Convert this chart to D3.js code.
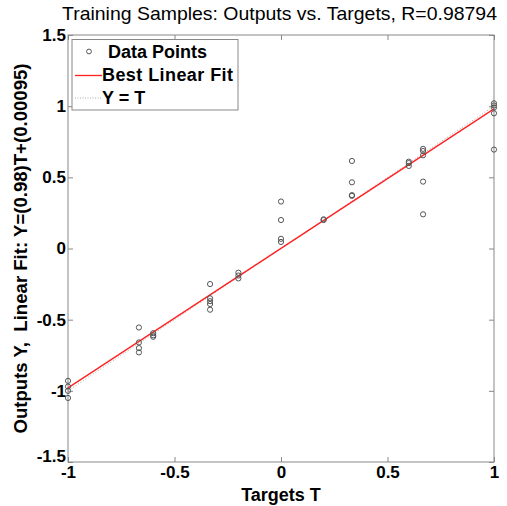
<!DOCTYPE html>
<html><head><meta charset="utf-8">
<script src="https://cdn.jsdelivr.net/npm/d3@7"></script>
<style>body{margin:0;background:#fff}svg{display:block}text{font-family:"Liberation Sans",Arial,sans-serif}</style>
</head><body>
<script>
const targets = [-1,-1,-1,-1,
  -0.667,-0.667,-0.667,-0.667,
  -0.6,-0.6,-0.6,
  -0.333,-0.333,-0.333,-0.333,-0.333,
  -0.2,-0.2,-0.2,
  0,0,0,0,
  0.2,0.2,
  0.333,0.333,0.333,0.333,
  0.6,0.6,0.6,
  0.667,0.667,0.667,0.667,0.667,
  1,1,1,1,1];
const outputs = [-0.93,-0.97,-1.0,-1.05,
  -0.555,-0.66,-0.70,-0.73,
  -0.595,-0.61,-0.62,
  -0.25,-0.35,-0.37,-0.39,-0.43,
  -0.17,-0.19,-0.21,
  0.33,0.2,0.068,0.046,
  0.205,0.2,
  0.615,0.465,0.375,0.37,
  0.61,0.6,0.58,
  0.70,0.685,0.655,0.47,0.24,
  1.02,1.005,0.99,0.95,0.695];
const xTicks = [-1,-0.5,0,0.5,1];
const yTicks = [-1.5,-1,-0.5,0,0.5,1,1.5];
const fitSlope = 0.98, fitIntercept = 0.00095;
const titleText = "Training Samples: Outputs vs. Targets, R=0.98794";
const xLabel = "Targets T";
const yLabel = "Outputs Y,  Linear Fit: Y=(0.98)T+(0.00095)";
const legendLabels = ["Data Points","Best Linear Fit","Y = T"];

const W=507,H=506;
const m={l:68,r:13,t:35,b:44};
const svg=d3.select("body").append("svg").attr("width",W).attr("height",H);
const x=d3.scaleLinear().domain([-1,1]).range([m.l,W-m.r]);
const y=d3.scaleLinear().domain([-1.5,1.5]).range([H-m.b,m.t]);
const axisCol="#888";

svg.append("rect").attr("x",x(-1)).attr("y",y(1.5)).attr("width",x(1)-x(-1)).attr("height",y(-1.5)-y(1.5))
  .attr("fill","#fff").attr("stroke",axisCol).attr("stroke-width",1);

function styleAxis(g){
  g.select(".domain").remove();
  g.selectAll(".tick line").attr("stroke",axisCol);
  g.selectAll(".tick text").attr("fill","#000").attr("font-size","17px").attr("font-weight","bold").attr("font-family","'Liberation Sans',Arial,sans-serif");
}
const fmt=d=>String(d);
svg.append("g").attr("transform",`translate(0,${y(-1.5)})`)
  .call(d3.axisBottom(x).tickValues(xTicks).tickFormat(fmt).tickSizeInner(-5).tickSizeOuter(0).tickPadding(4))
  .call(styleAxis);
svg.append("g").attr("transform",`translate(0,${y(1.5)})`)
  .call(d3.axisTop(x).tickValues(xTicks).tickFormat("").tickSizeInner(-5).tickSizeOuter(0))
  .call(styleAxis);
svg.append("g").attr("transform",`translate(${x(-1)},0)`)
  .call(d3.axisLeft(y).tickValues(yTicks).tickFormat(fmt).tickSizeInner(-5).tickSizeOuter(0).tickPadding(2))
  .call(styleAxis)
  .selectAll(".tick text").filter(d=>d===-1.5).attr("dy","-0.05em");
svg.append("g").attr("transform",`translate(${x(1)},0)`)
  .call(d3.axisRight(y).tickValues(yTicks).tickFormat("").tickSizeInner(-5).tickSizeOuter(0))
  .call(styleAxis);

// Y = T
svg.append("line").attr("x1",x(-1)).attr("y1",y(-1)).attr("x2",x(1)).attr("y2",y(1))
  .attr("stroke","#aaa").attr("stroke-width",1).attr("stroke-dasharray","1,2");
// fit line
svg.append("line").attr("x1",x(-1)).attr("y1",y(fitSlope*-1+fitIntercept)).attr("x2",x(1)).attr("y2",y(fitSlope*1+fitIntercept))
  .attr("stroke","#ff2020").attr("stroke-width",1.3);
// points
svg.append("g").selectAll("circle").data(targets).join("circle")
  .attr("cx",d=>x(d)).attr("cy",(d,i)=>y(outputs[i])).attr("r",2.6)
  .attr("fill","none").attr("stroke","#555").attr("stroke-width",1);

// legend
const lg=svg.append("g");
lg.append("rect").attr("x",72).attr("y",39.5).attr("width",166).attr("height",70.5).attr("fill","#fff").attr("stroke","#888");
lg.append("circle").attr("cx",89).attr("cy",51.5).attr("r",2.4).attr("fill","none").attr("stroke","#555");
lg.append("line").attr("x1",75).attr("x2",102).attr("y1",75.5).attr("y2",75.5).attr("stroke","#ff2020").attr("stroke-width",1.3);
lg.append("line").attr("x1",75).attr("x2",102).attr("y1",98).attr("y2",98).attr("stroke","#aaa").attr("stroke-dasharray","1,1.5");
const lgx=[108,102,102], lgy=[58,81,104];
legendLabels.forEach((t,i)=>lg.append("text").attr("x",lgx[i]).attr("y",lgy[i]).attr("font-size","18px").attr("font-weight","bold").attr("textLength",i===1?131:null).text(t));

// titles
svg.append("text").attr("x",62).attr("y",20).attr("font-size","18.5px").attr("textLength",435).attr("lengthAdjust","spacingAndGlyphs").text(titleText);
svg.append("text").attr("x",x(0)).attr("y",501).attr("text-anchor","middle").attr("font-size","18px").attr("font-weight","bold").text(xLabel);
svg.append("text").attr("transform",`translate(27,${(y(1.5)+y(-1.5))/2}) rotate(-90)`).attr("text-anchor","middle").attr("font-size","17.5px").attr("font-weight","bold").style("white-space","pre").attr("textLength",370).attr("lengthAdjust","spacingAndGlyphs").text(yLabel);
</script>
</body></html>
